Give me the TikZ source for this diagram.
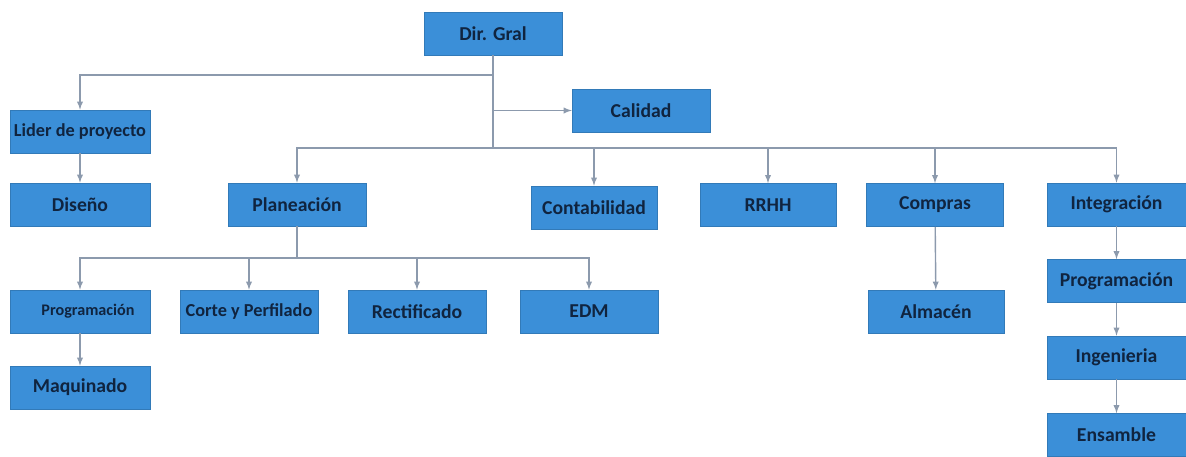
\documentclass[tikz,border=0pt]{standalone}
\usepackage{fontspec}
\setmainfont{Carlito}
\usepackage{tikz}
\usepackage{xcolor}
\definecolor{boxblue}{HTML}{3B8FD8}
\definecolor{txtblue}{HTML}{10243F}
\definecolor{linegray}{HTML}{8C9AAD}
\begin{document}
\begin{tikzpicture}[x=0.025cm, y=-0.025cm,
		box/.style={fill=boxblue, draw=boxblue!85!black, line width=0.3pt, minimum width=3.45cm, minimum height=1.08cm, inner sep=0pt, align=center, text=txtblue, font=\fontsize{14}{16}\selectfont\bfseries},
		small/.style={font=\fontsize{13}{15}\selectfont\bfseries},
		tiny/.style={font=\fontsize{11.5}{13}\selectfont\bfseries},
		link/.style={draw=linegray, line width=1pt},
		arr/.style={link, ->, >=latex}]
				\useasboundingbox (0,0) rectangle (1186,456);
				\node[box] (dir) at (493,33.5) {Dir. Gral};
				\node[box] (calidad) at (641,110.5) {Calidad};
				\node[box, minimum width=3.5cm, small] (lider) at (80,131.5) {Lider de proyecto};
				\node[box, minimum width=3.5cm] (diseno) at (80,204.5) {Diseño};
				\node[box] (plan) at (297,204.5) {Planeación};
				\node[box, minimum width=3.15cm] (conta) at (594,207.5) {Contabilidad};
				\node[box, minimum width=3.4cm] (rrhh) at (768,205) {RRHH};
				\node[box, minimum width=3.43cm] (compras) at (935,205) {Compras};
				\node[box, minimum width=3.48cm] (integ) at (1116.5,204.5) {Integración};
				\node[box, minimum width=3.5cm, tiny] (prog) at (80,311.5) {\hspace*{0.4cm}Programación};
				\node[box, small] (corte) at (249,311.5) {Corte y Perfilado};
				\node[box] (rect) at (417,311.5) {Rectificado};
				\node[box] (edm) at (589,311.5) {EDM};
				\node[box, minimum width=3.5cm] (maq) at (80,387.5) {Maquinado};
				\node[box, minimum width=3.4cm] (almacen) at (936,311.5) {Almacén};
				\node[box, minimum width=3.48cm] (prog2) at (1116.5,281) {Programación};
				\node[box, minimum width=3.48cm] (ing) at (1116.5,357.5) {Ingenieria};
				\node[box, minimum width=3.48cm] (ens) at (1116.5,435) {Ensamble};
				% direccion
				\coordinate (bus) at (dir.south |- 0,148);
				\draw[link] (dir.south) -- (bus);
				\draw[arr] (dir.south |- 0,75) -| (lider.north);
				\draw[arr] (dir.south |- calidad.west) -- (calidad.west);
				\foreach \n in {plan,conta,rrhh,compras,integ}
					\draw[arr] (bus) -| (\n.north);
				\draw[arr] (lider) -- (diseno);
				% planeacion
				\coordinate (pbus) at (plan.south |- 0,258);
				\draw[link] (plan.south) -- (pbus);
				\foreach \n in {prog,corte,rect,edm}
					\draw[arr] (pbus) -| (\n.north);
				\draw[arr] (prog) -- (maq);
				\draw[arr] (compras) -- (almacen);
				\draw[arr] (integ) -- (prog2);
				\draw[arr] (prog2) -- (ing);
				\draw[arr] (ing) -- (ens);
			\end{tikzpicture}
\end{document}
